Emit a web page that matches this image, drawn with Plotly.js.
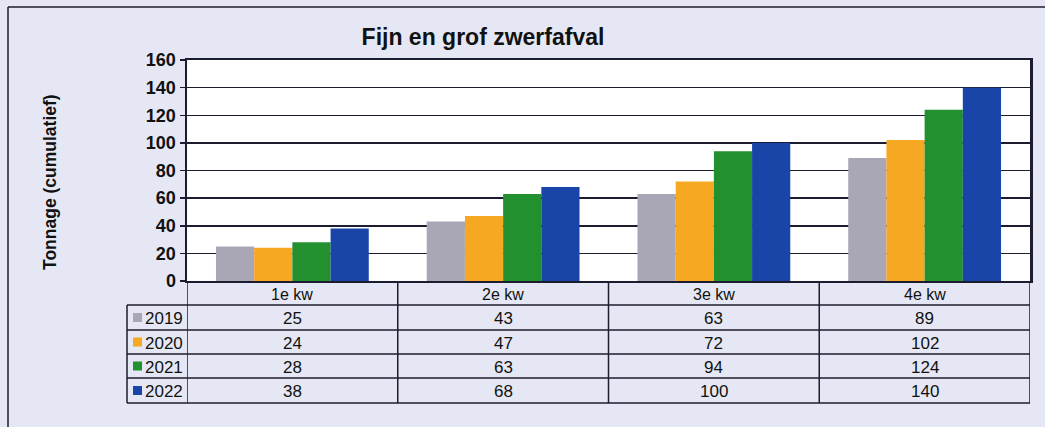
<!DOCTYPE html>
<html>
<head>
<meta charset="utf-8">
<script src="https://cdn.plot.ly/plotly-3.0.1.min.js"></script>
<style>
html,body{margin:0;padding:0;background:#e5e8f4;}
#chart{width:1045px;height:427px;}
</style>
</head>
<body>
<div id="chart"></div>
<script>
// ---- data ----
const categories = ['1e kw', '2e kw', '3e kw', '4e kw'];
const years = ['2019', '2020', '2021', '2022'];
const values2019 = [25, 43, 63, 89];
const values2020 = [24, 47, 72, 102];
const values2021 = [28, 63, 94, 124];
const values2022 = [38, 68, 100, 140];
const yTicks = [0, 20, 40, 60, 80, 100, 120, 140, 160];
const chartTitle = 'Fijn en grof zwerfafval';
const yTitle = 'Tonnage (cumulatief)';

// ---- styling ----
const seriesValues = [values2019, values2020, values2021, values2022];
const colors = ['#a9a6b6', '#f6a823', '#22902f', '#1a45a8'];
const W = 1045, H = 427;
const L = 187, R = 1030, T = 60, B = 281;
const px = p => (p - L) / (R - L);
const py = p => (B - p) / (B - T);
const lineCol = '#1c1c30';
const font = 'Liberation Sans, Arial, sans-serif';

const traces = years.map((yr, i) => ({
  type: 'bar',
  name: yr,
  x: categories,
  y: seriesValues[i],
  marker: {color: colors[i], line: {width: 0}},
  hoverinfo: 'skip'
}));

const shapes = [];
const annotations = [];
// outer frame
shapes.push({type: 'line', xref: 'paper', yref: 'paper', x0: px(8), x1: px(1060), y0: py(7), y1: py(7), line: {color: lineCol, width: 1.5}});
shapes.push({type: 'line', xref: 'paper', yref: 'paper', x0: px(8), x1: px(8), y0: py(7), y1: py(440), line: {color: lineCol, width: 1.5}});

// table geometry
const rowEdges = [282, 305, 330, 354, 378, 403];
const legLeft = 127;
rowEdges.slice(1).forEach(yp => {
  shapes.push({type: 'line', xref: 'paper', yref: 'paper', x0: px(legLeft), x1: 1, y0: py(yp), y1: py(yp), line: {color: lineCol, width: 1.5}});
});
for (let c = 0; c <= categories.length; c++) {
  shapes.push({type: 'line', xref: 'x', yref: 'paper', x0: c - 0.5, x1: c - 0.5, y0: py(rowEdges[0]), y1: py(rowEdges[rowEdges.length - 1]), line: {color: lineCol, width: 1.5}});
}
shapes.push({type: 'line', xref: 'paper', yref: 'paper', x0: px(legLeft), x1: px(legLeft), y0: py(rowEdges[1]), y1: py(rowEdges[rowEdges.length - 1]), line: {color: lineCol, width: 1.5}});

// header labels
categories.forEach((cat, c) => {
  annotations.push({xref: 'x', yref: 'paper', x: c, y: py((rowEdges[0] + rowEdges[1]) / 2 + 1), text: cat, showarrow: false, xanchor: 'center', yanchor: 'middle', font: {family: font, size: 16, color: '#111'}});
});
// rows
years.forEach((yr, i) => {
  const yc = (rowEdges[i + 1] + rowEdges[i + 2]) / 2;
  shapes.push({type: 'rect', xref: 'paper', yref: 'paper', x0: px(133), x1: px(142), y0: py(yc + 4.5), y1: py(yc - 4.5), fillcolor: colors[i], line: {width: 0}});
  annotations.push({xref: 'paper', yref: 'paper', x: px(143), y: py(yc + 1), text: yr, showarrow: false, xanchor: 'left', yanchor: 'middle', font: {family: font, size: 17, color: '#111'}});
  seriesValues[i].forEach((v, c) => {
    annotations.push({xref: 'x', yref: 'paper', x: c, y: py(yc + 1), text: String(v), showarrow: false, xanchor: 'center', yanchor: 'middle', font: {family: font, size: 17, color: '#111'}});
  });
});

// y-axis title
annotations.push({xref: 'paper', yref: 'paper', x: px(50), y: py(182), text: yTitle, textangle: -90, showarrow: false, xanchor: 'center', yanchor: 'middle', font: {family: font, size: 17.5, weight: 'bold', color: '#111'}});

const layout = {
  width: W, height: H,
  paper_bgcolor: '#e5e8f4',
  plot_bgcolor: '#ffffff',
  margin: {l: L, r: W - R, t: T, b: H - B, pad: 0},
  showlegend: false,
  barmode: 'group',
  bargap: 0.275,
  bargroupgap: 0,
  title: {text: chartTitle, font: {family: font, size: 23, weight: 'bold', color: '#111'}, x: 483 / W, xanchor: 'center', y: 1 - 37 / H, yanchor: 'middle', yref: 'container'},
  xaxis: {
    type: 'category', range: [-0.5, categories.length - 0.5],
    showticklabels: false, ticks: '', showgrid: false, zeroline: false,
    showline: true, linecolor: lineCol, linewidth: 2, mirror: true, automargin: false, fixedrange: true
  },
  yaxis: {
    range: [0, 160], tickvals: yTicks, ticktext: yTicks.map(String),
    ticks: 'outside', ticklen: 5, tickwidth: 1.5, tickcolor: lineCol,
    tickfont: {family: font, size: 18, weight: 'bold', color: '#111'},
    showgrid: true, gridcolor: lineCol, gridwidth: 1.5, zeroline: false,
    showline: true, linecolor: lineCol, linewidth: 2.5, mirror: true, automargin: false, fixedrange: true
  },
  shapes: shapes,
  annotations: annotations
};

Plotly.newPlot('chart', traces, layout, {staticPlot: true, displayModeBar: false});
</script>
</body>
</html>
